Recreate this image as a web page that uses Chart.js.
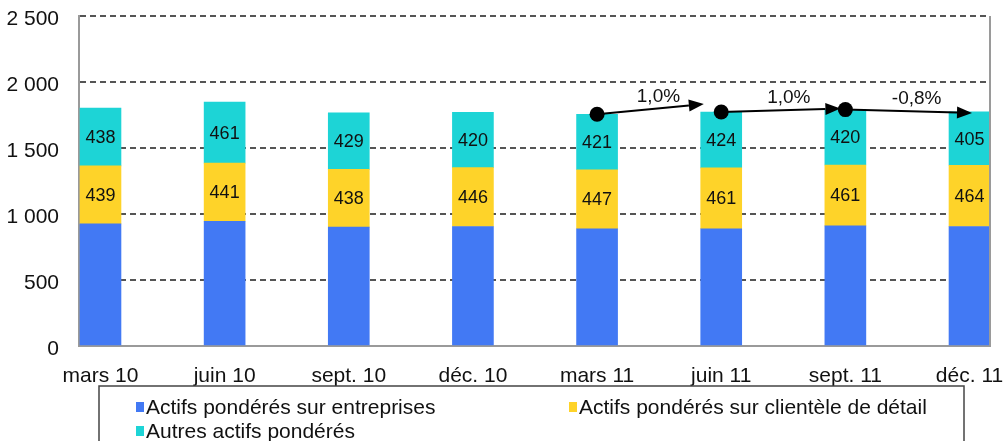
<!DOCTYPE html>
<html>
<head>
  <title>Actifs pondérés</title>
  <script src="https://cdn.jsdelivr.net/npm/chart.js"></script>
  <style>
    html, body { margin: 0; padding: 0; background: #fff; }
    #wrap { width: 1003px; height: 441px; position: relative; }
  </style>
</head>
<body>
  <div id="wrap"><canvas id="rwaChart"></canvas></div>

  <script>
    // data
    const quarters = ['mars 10', 'juin 10', 'sept. 10', 'déc. 10', 'mars 11', 'juin 11', 'sept. 11', 'déc. 11'];
    const entreprises = [925, 945, 900, 905, 888, 888, 910, 905];
    const clientele = [439, 441, 438, 446, 447, 461, 461, 464];
    const autres = [438, 461, 429, 420, 421, 424, 420, 405];
    const yTicks = [0, 500, 1000, 1500, 2000, 2500];

    // growth arrows between quarters (from index -> from index + 1)
    const growthFrom = [4, 5, 6];
    const growthLabels = ['1,0%', '1,0%', '-0,8%'];
    const arrowTipShift = [-0.14, -0.04, 0.02];   // in quarter units
    const arrowTipLift = [60, 8, -8];             // in value units

    const seriesNames = ['Actifs pondérés sur entreprises', 'Actifs pondérés sur clientèle de détail', 'Autres actifs pondérés'];
    const seriesColors = ['#4279f4', '#fed329', '#1dd4d6'];

    const FONT = "'Liberation Sans', Arial, sans-serif";
    const totals = quarters.map((q, i) => entreprises[i] + clientele[i] + autres[i]);

    function fmt(v) {
      return String(v).replace(/\B(?=(\d{3})+(?!\d))/g, ' ');
    }

    const valueLabels = {
      id: 'valueLabels',
      afterDatasetsDraw(chart) {
        const ctx = chart.ctx;
        ctx.save();
        ctx.font = '18px ' + FONT;
        ctx.fillStyle = '#111';
        ctx.textAlign = 'center';
        ctx.textBaseline = 'middle';
        [1, 2].forEach(di => {
          const meta = chart.getDatasetMeta(di);
          const vals = chart.data.datasets[di].data;
          meta.data.forEach((bar, i) => {
            ctx.fillText(vals[i].y, bar.x, (bar.y + bar.base) / 2 + 1);
          });
        });
        ctx.restore();
      }
    };

    const frame = {
      id: 'frame',
      afterDatasetsDraw(chart) {
        const { ctx, chartArea } = chart;
        ctx.save();
        ctx.strokeStyle = '#9a9a9a';
        ctx.lineWidth = 2;
        ctx.beginPath();
        ctx.moveTo(chartArea.right, chartArea.top);
        ctx.lineTo(chartArea.right, chartArea.bottom);
        ctx.stroke();
        ctx.restore();
      }
    };

    const growthArrows = {
      id: 'growthArrows',
      afterDatasetsDraw(chart) {
        const ctx = chart.ctx;
        const xs = chart.scales.x, ys = chart.scales.y;
        ctx.save();
        ctx.strokeStyle = '#000';
        ctx.fillStyle = '#000';
        ctx.lineWidth = 2;
        growthFrom.forEach((i, k) => {
          const x0 = xs.getPixelForValue(i);
          const y0 = ys.getPixelForValue(totals[i]);
          const x1 = xs.getPixelForValue(i + 1 + arrowTipShift[k]);
          const y1 = ys.getPixelForValue(totals[i + 1] + arrowTipLift[k]);
          const ang = Math.atan2(y1 - y0, x1 - x0);
          const head = 15;
          ctx.beginPath();
          ctx.moveTo(x0, y0);
          ctx.lineTo(x1 - head * Math.cos(ang), y1 - head * Math.sin(ang));
          ctx.stroke();
          ctx.beginPath();
          ctx.moveTo(x1, y1);
          ctx.lineTo(x1 - head * Math.cos(ang) + 6 * Math.sin(ang), y1 - head * Math.sin(ang) - 6 * Math.cos(ang));
          ctx.lineTo(x1 - head * Math.cos(ang) - 6 * Math.sin(ang), y1 - head * Math.sin(ang) + 6 * Math.cos(ang));
          ctx.closePath();
          ctx.fill();
          ctx.beginPath();
          ctx.arc(x0, y0, 7.5, 0, Math.PI * 2);
          ctx.fill();
          ctx.font = '19px ' + FONT;
          ctx.textAlign = 'center';
          ctx.textBaseline = 'middle';
          ctx.fillStyle = '#111';
          ctx.fillText(growthLabels[k], (x0 + x1) / 2 + 8, (y0 + y1) / 2 - 12);
          ctx.fillStyle = '#000';
        });
        ctx.restore();
      }
    };

    const boxedLegend = {
      id: 'boxedLegend',
      afterDraw(chart) {
        const ctx = chart.ctx;
        const cols = [136, 569];
        const rows = [407, 431];
        ctx.save();
        ctx.strokeStyle = '#444';
        ctx.lineWidth = 1.5;
        ctx.strokeRect(99, 386, 865, 70);
        ctx.font = '21px ' + FONT;
        ctx.textBaseline = 'middle';
        ctx.textAlign = 'left';
        chart.data.datasets.forEach((ds, i) => {
          const x = cols[i % 2], y = rows[Math.floor(i / 2)];
          ctx.fillStyle = ds.backgroundColor;
          ctx.fillRect(x, y - 5, 8, 10);
          ctx.fillStyle = '#111';
          ctx.fillText(ds.label, x + 10, y + 1);
        });
        ctx.restore();
      }
    };

    const ctx = document.getElementById('rwaChart').getContext('2d');
    new Chart(ctx, {
      type: 'bar',
      data: {
        datasets: [
          { label: seriesNames[0], data: entreprises.map((v, i) => ({ x: i, y: v })), backgroundColor: seriesColors[0] },
          { label: seriesNames[1], data: clientele.map((v, i) => ({ x: i, y: v })), backgroundColor: seriesColors[1] },
          { label: seriesNames[2], data: autres.map((v, i) => ({ x: i, y: v })), backgroundColor: seriesColors[2] }
        ].map(d => Object.assign(d, { barThickness: 41, borderWidth: 0 }))
      },
      options: {
        responsive: true,
        maintainAspectRatio: false,
        animation: false,
        layout: { padding: { top: 16, right: 13, left: 0, bottom: 0 } },
        plugins: {
          legend: { display: false },
          tooltip: { enabled: false }
        },
        scales: {
          x: {
            type: 'linear',
            stacked: true,
            offset: false,
            min: -0.173,
            max: 7.165,
            grid: { display: false, drawTicks: false, offset: false },
            border: { color: '#9a9a9a', width: 2 },
            afterBuildTicks: s => { s.ticks = quarters.map((q, i) => ({ value: i })); },
            afterFit: s => { s.height = 95; s.paddingLeft = 0; s.paddingRight = 0; },
            ticks: {
              autoSkip: false,
              maxRotation: 0,
              padding: 18,
              color: '#111',
              font: { family: FONT, size: 21 },
              callback: v => quarters[v]
            }
          },
          y: {
            stacked: true,
            min: 0,
            max: 2500,
            afterBuildTicks: s => { s.ticks = yTicks.map(v => ({ value: v })); },
            afterFit: s => { s.width = 79; s.paddingTop = 0; s.paddingBottom = 0; },
            grid: {
              drawTicks: false,
              lineWidth: 2,
              color: c => c.tick && c.tick.value === 0 ? 'rgba(0,0,0,0)' : '#555'
            },
            border: { color: '#9a9a9a', width: 2, dash: [6, 4] },
            ticks: {
              padding: 20,
              labelOffset: 3,
              color: '#111',
              font: { family: FONT, size: 21 },
              callback: v => fmt(v)
            }
          }
        }
      },
      plugins: [frame, valueLabels, growthArrows, boxedLegend]
    });
  </script>
</body>
</html>
